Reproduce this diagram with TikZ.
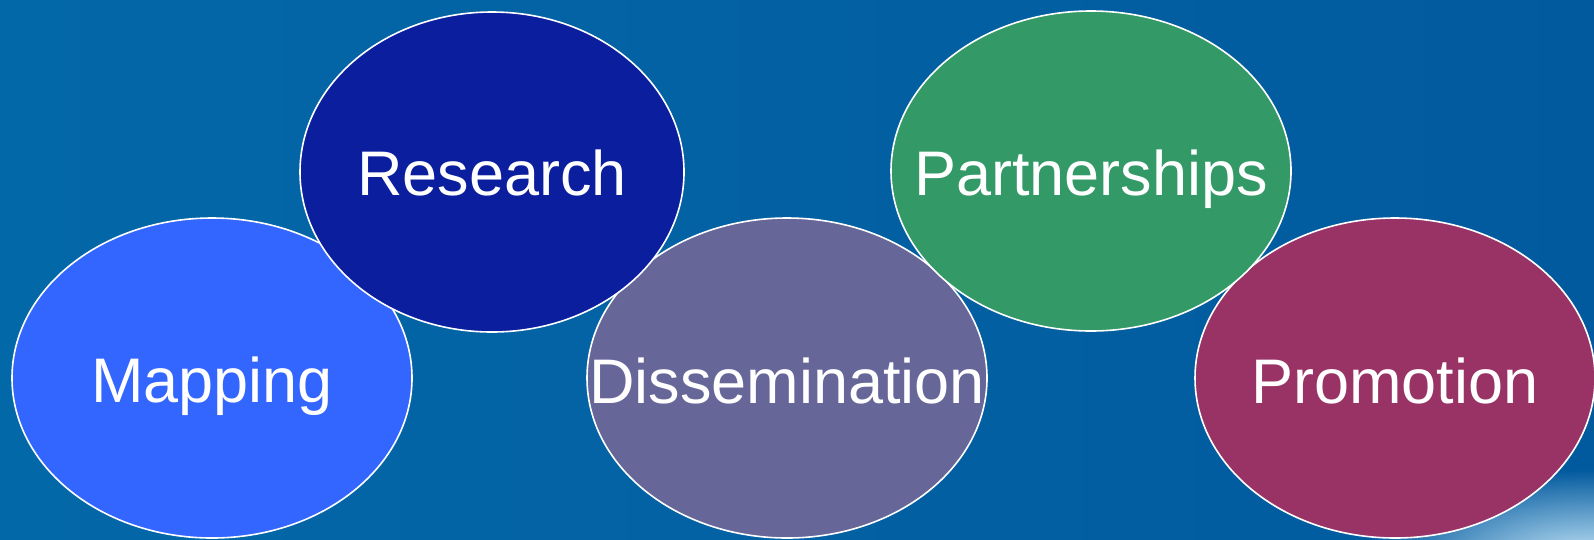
\documentclass[tikz,border=0pt]{standalone}
\usepackage{fontspec}
\setmainfont{Liberation Sans}
\usetikzlibrary{shapes.geometric}
\definecolor{bgA}{RGB}{3,104,168}
\definecolor{bgB}{RGB}{2,90,158}
\definecolor{glow}{RGB}{200,232,250}
\definecolor{cMap}{RGB}{51,102,255}
\definecolor{cRes}{RGB}{10,30,158}
\definecolor{cDis}{RGB}{102,102,153}
\definecolor{cPar}{RGB}{51,153,102}
\definecolor{cPro}{RGB}{153,51,102}
\tikzset{
  blob/.style={ellipse, draw=white, line width=1.6pt, inner sep=0pt,
    minimum width=400pt, minimum height=320pt},
  lbl/.style={anchor=base, text=white, inner sep=0pt,
    font=\fontsize{63}{75}\selectfont}
}
\begin{document}
\begin{tikzpicture}[x=1pt,y=-1pt]
\useasboundingbox (0,0) rectangle (1594,539);
\begin{scope}
\clip (0,0) rectangle (1594,539);
\shade[left color=bgA, right color=bgB] (0,0) rectangle (1594,539);
\shade[inner color=glow, outer color=bgB] (1590,560) ellipse [x radius=230pt, y radius=90pt];
% lower row first
\node[blob, fill=cMap] (map) at (212,378) {};
\node[blob, fill=cDis] (dis) at (787,378) {};
\node[blob, fill=cPro] (pro) at (1395,378) {};
% upper row on top
\node[blob, fill=cRes, minimum width=384pt] (res) at (492,172) {};
\node[blob, fill=cPar] (par) at (1091,171) {};
\end{scope}
\node[lbl] (tmap) at ([yshift=-24pt]map.center) {Mapping};
\node[lbl] (tdis) at ([yshift=-25pt]dis.center) {Dissemination};
\node[lbl] (tpro) at ([yshift=-25pt]pro.center) {Promotion};
\node[lbl] (tres) at ([yshift=-23pt]res.center) {Research};
\node[lbl] (tpar) at ([yshift=-24pt]par.center) {Partnerships};
\end{tikzpicture}
\end{document}
